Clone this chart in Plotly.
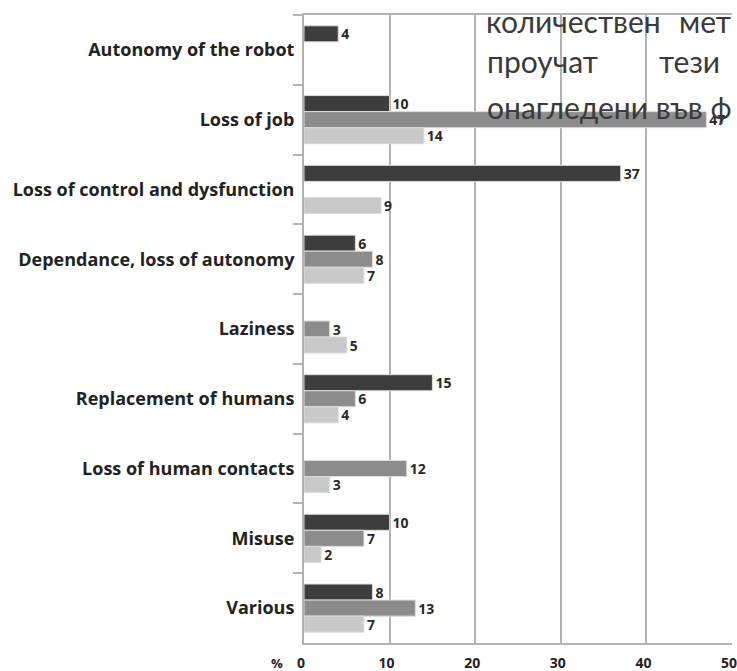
import plotly.graph_objects as go

categories = ["Autonomy of the robot", "Loss of job", "Loss of control and dysfunction",
              "Dependance, loss of autonomy", "Laziness", "Replacement of humans",
              "Loss of human contacts", "Misuse", "Various"]
series_dark = [4, 10, 37, 6, None, 15, None, 10, 8]
series_mid = [None, 47, None, 8, 3, 6, 12, 7, 13]
series_light = [None, 14, 9, 7, 5, 4, 3, 2, 7]
x_ticks = [0, 10, 20, 30, 40, 50]
axis_unit = "%"
overlay_words = [("количествен", 484, 21), ("мет", 677, 21),
                 ("проучат", 485, 61), ("тези", 657, 61),
                 ("онагледени във ф", 485, 107)]

W, H = 737, 671
ML, MR, MT, MB = 304, 5, 15, 28
PW, PH = W - ML - MR, H - MT - MB


def px_x(px):
    return (px - ML) / PW


def px_y(py):
    return 1 - (py - MT) / PH


colors = ["#3d3d3d", "#8c8c8c", "#c9c9c9"]
fig = go.Figure()
for vals, col in zip([series_dark, series_mid, series_light], colors):
    fig.add_trace(go.Bar(
        y=categories, x=vals, orientation="h",
        marker=dict(color=col, line=dict(color="#dcdcdc", width=1)),
        text=[("" if v is None else str(v)) for v in vals],
        textposition="outside", cliponaxis=False, constraintext="none",
        textfont=dict(family="Open Sans", size=14, color="#2a2a2a", weight="bold"),
        showlegend=False,
    ))

fig.update_layout(
    width=W, height=H, barmode="group", bargap=0.31, bargroupgap=0.0,
    margin=dict(l=ML, r=MR, t=MT, b=MB),
    plot_bgcolor="white", paper_bgcolor="white",
    font=dict(family="Open Sans", color="#222"),
)
fig.update_xaxes(range=[0, 50], tickvals=x_ticks, showgrid=True, gridcolor="#b3b3b3", gridwidth=2,
                 showline=True, linecolor="#b3b3b3", linewidth=2, mirror=True, zeroline=False,
                 tickfont=dict(family="Open Sans", size=14, color="#222", weight="bold"),
                 ticks="outside", ticklen=5, tickcolor="rgba(0,0,0,0)", automargin=False,
                 ticklabelstandoff=1, ticklabelshift=-3, ticklabeloverflow="allow")
fig.update_yaxes(autorange="reversed", tickson="boundaries", ticks="outside", ticklen=9,
                 tickcolor="#b3b3b3", tickwidth=2, showline=True, linecolor="#b3b3b3", linewidth=2,
                 tickfont=dict(family="Open Sans", size=18, color="#222", weight="bold"),
                 ticklabelstandoff=4, automargin=False)

fig.add_annotation(text=axis_unit, xref="paper", yref="paper", x=px_x(277), y=px_y(663),
                   xanchor="center", yanchor="middle", showarrow=False,
                   font=dict(family="Open Sans", size=13, color="#222", weight="bold"))

txtfont = dict(family="Lato", size=30, color="#3a3a3a")
for word, xpx, ypx in overlay_words:
    fig.add_annotation(text=word, xref="paper", yref="paper", x=px_x(xpx), y=px_y(ypx),
                       xanchor="left", yanchor="middle", showarrow=False, font=txtfont)

fig.write_html("out.html")
